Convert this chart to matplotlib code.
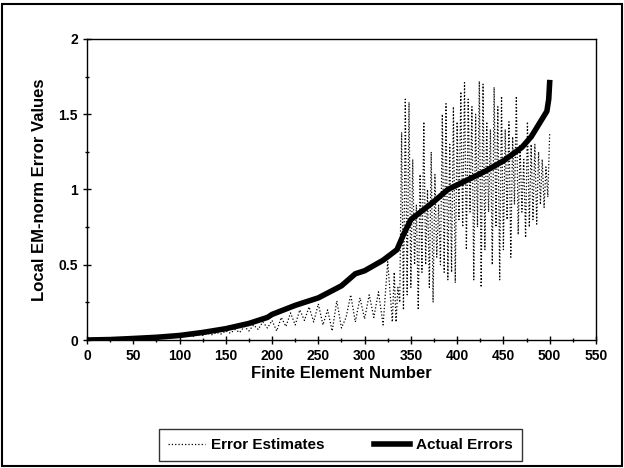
import numpy as np
import matplotlib.pyplot as plt
from matplotlib.patches import Rectangle
from matplotlib.ticker import MultipleLocator

# Actual errors (sorted ascending)
act_x = [0, 25, 50, 75, 100, 125, 150, 175, 195, 200, 225, 250, 275, 290, 300,
         320, 335, 342, 350, 375, 390, 410, 430, 450, 470, 480, 490, 497, 499, 500]
act_y = [0.0, 0.003, 0.01, 0.018, 0.03, 0.05, 0.075, 0.11, 0.15, 0.17, 0.23, 0.28,
         0.36, 0.44, 0.46, 0.53, 0.6, 0.7, 0.8, 0.92, 1.0, 1.06, 1.12, 1.19, 1.28,
         1.35, 1.45, 1.52, 1.6, 1.71]

# Error estimates, first part every 5 elements
est_x1 = list(range(0, 331, 5))
est_y1 = [0, 0, 0.001, 0.002, 0.002, 0.003, 0.004, 0.005, 0.006, 0.007, 0.008,
          0.009, 0.01, 0.012, 0.013, 0.015, 0.017, 0.019, 0.02, 0.022, 0.025,
          0.028, 0.03, 0.025, 0.038, 0.03, 0.045, 0.035, 0.05, 0.04, 0.06, 0.045,
          0.07, 0.05, 0.09, 0.06, 0.1, 0.07, 0.12, 0.08, 0.13, 0.06, 0.15, 0.09,
          0.18, 0.1, 0.2, 0.13, 0.22, 0.12, 0.24, 0.1, 0.2, 0.06, 0.26, 0.08,
          0.15, 0.3, 0.12, 0.28, 0.14, 0.3, 0.15, 0.32, 0.1, 0.52, 0.12]
# second part every 2 elements
est_x2 = list(range(332, 501, 2))
est_y2 = [0.45, 0.12, 0.35, 0.25, 1.38, 0.2, 1.6, 0.3, 1.58, 0.35, 1.2, 0.5, 0.9,
          0.2, 1.1, 0.45, 1.45, 0.5, 1.0, 0.35, 1.25, 0.25, 1.1, 0.55, 0.9, 0.5,
          1.5, 0.45, 1.57, 0.4, 1.3, 0.45, 1.55, 0.38, 1.45, 0.8, 1.65, 0.75,
          1.71, 0.6, 1.6, 0.85, 1.55, 0.4, 1.5, 0.75, 1.72, 0.35, 1.7, 0.6, 1.45,
          0.85, 1.4, 0.5, 1.68, 0.75, 1.55, 0.4, 1.62, 0.6, 1.4, 0.8, 1.45, 0.55,
          1.35, 0.9, 1.62, 0.7, 1.3, 0.85, 1.2, 0.68, 1.45, 0.75, 1.3, 0.8, 1.3,
          0.77, 1.25, 0.9, 1.2, 0.88, 1.15, 0.95, 1.37]
est_x = est_x1 + est_x2
est_y = est_y1 + est_y2

plt.rcParams['font.family'] = ['Liberation Sans', 'DejaVu Sans']
plt.rcParams['font.weight'] = 'bold'

fig = plt.figure(figsize=(6.24, 4.68), dpi=100)
ax = fig.add_axes([0.1394, 0.2735, 0.8156, 0.6432])

ax.plot(est_x, est_y, color='black', linestyle=':', linewidth=0.9, label='Error Estimates')
ax.plot(act_x, act_y, color='black', linestyle='-', linewidth=4, label='Actual Errors')

ax.set_xlim(0, 550)
ax.set_ylim(0, 2)
ax.xaxis.set_major_locator(MultipleLocator(50))
ax.xaxis.set_minor_locator(MultipleLocator(25))
ax.yaxis.set_minor_locator(MultipleLocator(0.25))
ax.set_yticks([0, 0.5, 1, 1.5, 2])
ax.set_yticklabels(['0', '0.5', '1', '1.5', '2'])
ax.tick_params(which='major', direction='inout', length=6, width=1, labelsize=10)
ax.tick_params(which='minor', direction='inout', length=3, width=1)
for s in ax.spines.values():
    s.set_linewidth(1)
    s.set_color('black')

ax.set_xlabel('Finite Element Number', fontsize=12, fontweight='bold', labelpad=2)
ax.set_ylabel('Local EM-norm Error Values', fontsize=12, fontweight='bold', labelpad=8)

leg = fig.legend(loc='center', bbox_to_anchor=(0.546, 0.049), ncol=2, frameon=True,
                 fancybox=False, edgecolor='black', fontsize=11, handlelength=2.4,
                 columnspacing=3.2, handletextpad=0.4, borderpad=0.6, borderaxespad=0)
leg.get_frame().set_linewidth(1)

fig.patches.append(Rectangle((0.004, 0.004), 0.992, 0.988, transform=fig.transFigure,
                             fill=False, edgecolor='black', linewidth=1.5))

fig.savefig('out.png', dpi=100)
